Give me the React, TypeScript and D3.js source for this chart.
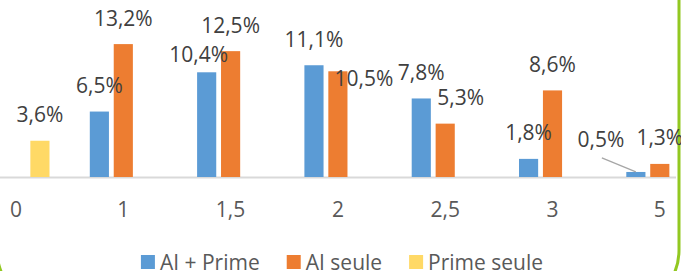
import { useRef, useEffect } from 'react'
import * as d3 from 'd3'

// categories (x axis) and series
const categories = ['0', '1', '1,5', '2', '2,5', '3', '5']
const series = ['AI + Prime', 'AI seule', 'Prime seule']
const aiPrime = [null, 6.5, 10.4, 11.1, 7.8, 1.8, 0.5]
const aiSeule = [null, 13.2, 12.5, 10.5, 5.3, 8.6, 1.3]
const primeSeule = [3.6, null, null, null, null, null, null]
const colors = ['#5b9bd5', '#ed7d31', '#ffd966']

// manual label nudges (dx, dy) keyed by "serie-category"
const labelNudges: Record<string, [number, number]> = {
  '0-2': [-8, 8.5],
  '1-3': [26, 33.5],
  '1-4': [15.5, 0],
  '0-6': [-35, -6.5],
}

const W = 681
const H = 271
const FONT = '"Open Sans", sans-serif'

const App = () => {
  const ref = useRef<SVGSVGElement>(null)

  useEffect(() => {
    if (!ref.current) return
    const svg = d3.select(ref.current)
    svg.selectAll('*').remove()

    const values = [aiPrime, aiSeule, primeSeule]
    const step = 107.3
    const firstCenter = 16
    const x0 = d3.scaleBand<string>()
      .domain(categories)
      .range([firstCenter - step / 2, firstCenter - step / 2 + step * categories.length])
      .padding(0)
    const x1 = d3.scaleBand<string>()
      .domain(series)
      .range([0, 67])
      .paddingInner(0.2)
    const groupOffset = x0.bandwidth() / 2 - 33.5
    const y = d3.scaleLinear().domain([0, 17.58]).range([177, 0])

    // green frame (rounded card border, mostly cropped)
    svg.append('rect')
      .attr('x', -3)
      .attr('y', -60)
      .attr('width', 682)
      .attr('height', 367)
      .attr('rx', 57)
      .attr('fill', 'none')
      .attr('stroke', '#92c821')
      .attr('stroke-width', 3)

    // baseline
    svg.append('line')
      .attr('x1', 0)
      .attr('x2', 676)
      .attr('y1', y(0) + 0.5)
      .attr('y2', y(0) + 0.5)
      .attr('stroke', '#d9d9d9')
      .attr('stroke-width', 2)

    const bars: { s: number; c: number; v: number }[] = []
    values.forEach((arr, s) => arr.forEach((v, c) => {
      if (v != null) bars.push({ s, c, v })
    }))

    const bx = (d: { s: number; c: number }) =>
      (x0(categories[d.c]) ?? 0) + groupOffset + (x1(series[d.s]) ?? 0)

    svg.append('g')
      .selectAll('rect')
      .data(bars)
      .enter()
      .append('rect')
      .attr('x', d => bx(d))
      .attr('y', d => y(d.v))
      .attr('width', x1.bandwidth())
      .attr('height', d => y(0) - y(d.v))
      .attr('fill', d => colors[d.s])

    // leader line for 0,5%
    const lead = bars.find(d => d.s === 0 && d.c === 6)
    if (lead) {
      const cx = bx(lead) + x1.bandwidth() / 2
      svg.append('line')
        .attr('x1', cx - 34)
        .attr('y1', y(lead.v) - 14)
        .attr('x2', cx)
        .attr('y2', y(lead.v))
        .attr('stroke', '#a6a6a6')
        .attr('stroke-width', 1.3)
    }

    svg.append('g')
      .selectAll('text')
      .data(bars)
      .enter()
      .append('text')
      .attr('x', d => bx(d) + x1.bandwidth() / 2 + (labelNudges[`${d.s}-${d.c}`]?.[0] ?? 0))
      .attr('y', d => y(d.v) - 18.5 + (labelNudges[`${d.s}-${d.c}`]?.[1] ?? 0))
      .attr('text-anchor', 'middle')
      .attr('font-family', FONT)
      .attr('font-size', 21)
      .attr('fill', '#404040')
      .text(d => d.v.toFixed(1).replace('.', ',') + '%')

    // x tick labels
    svg.append('g')
      .selectAll('text')
      .data(categories)
      .enter()
      .append('text')
      .attr('x', d => (x0(d) ?? 0) + x0.bandwidth() / 2)
      .attr('y', 216.7)
      .attr('text-anchor', 'middle')
      .attr('font-family', FONT)
      .attr('font-size', 21)
      .attr('fill', '#595959')
      .text(d => d)

    // legend, laid out from measured text widths and centred
    const legend = svg.append('g')
    const items = series.map((s, i) => {
      const g = legend.append('g')
      g.append('rect')
        .attr('x', 0)
        .attr('y', 255)
        .attr('width', 14)
        .attr('height', 14)
        .attr('fill', colors[i])
      const t = g.append('text')
        .attr('x', 19)
        .attr('y', 269.5)
        .attr('font-family', FONT)
        .attr('font-size', 21)
        .attr('fill', '#595959')
        .text(s)
      const w = 19 + (t.node() as SVGTextElement).getComputedTextLength()
      return { g, w }
    })
    const gap = 27
    const total = d3.sum(items, d => d.w) + gap * (items.length - 1)
    let cur = 342 - total / 2
    items.forEach(it => {
      it.g.attr('transform', `translate(${cur},0)`)
      cur += it.w + gap
    })
  }, [])

  return (
    <svg
      ref={ref}
      width={W}
      height={H}
      style={{ position: 'absolute', left: 0, top: 0, background: '#fff' }}
    />
  )
}

export default App
